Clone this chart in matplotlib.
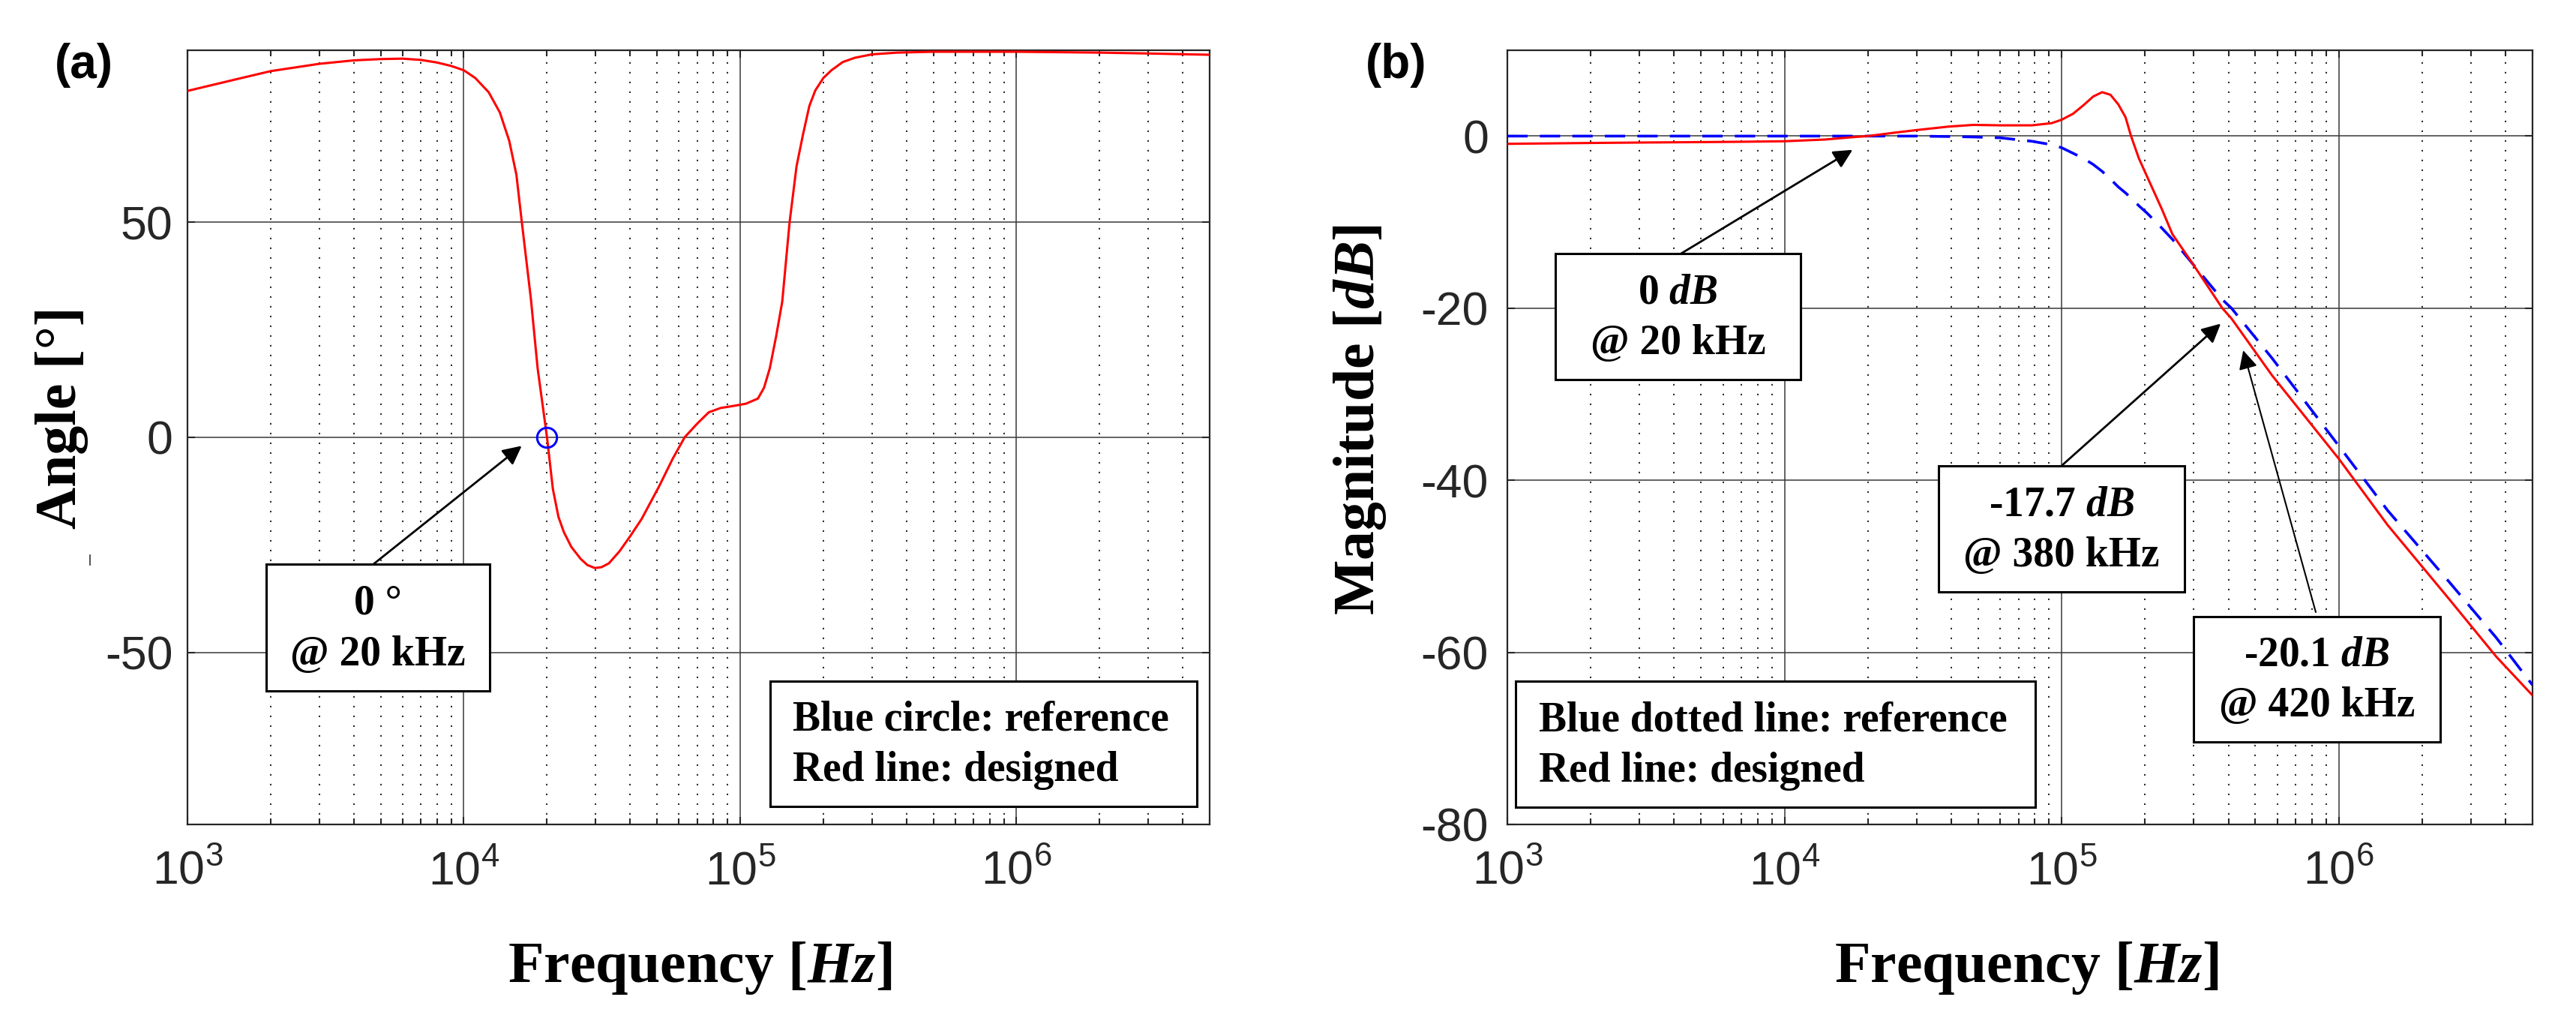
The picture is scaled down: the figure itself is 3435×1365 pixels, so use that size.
import matplotlib
matplotlib.use("Agg")
import matplotlib.pyplot as plt
from matplotlib.patches import Rectangle
from matplotlib.lines import Line2D

# ---------------- data ----------------
# (a) phase of designed response
phase_freq = [1e3, 1.5e3, 2e3, 3e3, 4e3, 5e3, 6e3, 7e3, 8e3, 9e3, 1e4, 1.1e4, 1.23e4,
              1.35e4, 1.46e4, 1.55e4, 1.62e4, 1.75e4, 1.85e4, 2e4, 2.1e4, 2.2e4,
              2.3e4, 2.45e4, 2.65e4, 2.8e4, 2.98e4, 3.15e4, 3.35e4, 3.66e4, 4.0e4,
              4.4e4, 5.1e4, 5.7e4, 6.3e4,
              7.0e4, 7.7e4, 8.5e4, 9.5e4, 1.05e5, 1.16e5, 1.22e5, 1.28e5, 1.35e5,
              1.42e5, 1.51e5, 1.6e5, 1.69e5, 1.78e5, 1.87e5, 2.0e5, 2.14e5, 2.35e5,
              2.6e5, 3.0e5, 3.7e5, 5e5, 1e6, 2e6, 3e6, 5e6]
phase_deg = [80.5, 83.2, 85.1, 86.8, 87.6, 87.9, 88.0, 87.7, 87.1, 86.3, 85.3, 83.5, 80.2,
             75.5, 68.9, 61.0, 50.2, 32.0, 16.0, 0.0, -12.0, -18.5,
             -22.0, -25.5, -28.3, -29.7, -30.4, -30.2, -29.3, -26.5, -23.0,
             -19.0, -11.3, -5.0, 0.0,
             3.2, 5.8, 6.8, 7.3, 7.8, 9.0, 11.5, 16.0, 23.5,
             31.5, 50.0, 63.0, 70.5, 77.0, 80.6, 83.5, 85.3, 87.2,
             88.2, 89.0, 89.4, 89.6, 89.6, 89.4, 89.2, 88.9]
ref_point_freq = [2e4]
ref_point_deg = [0.0]

# (b) magnitude
mag_freq = [1e3, 2e3, 3e3, 5e3, 7e3, 1e4, 1.4e4, 1.8e4, 2e4, 2.5e4, 3e4, 3.9e4, 4.8e4,
            6e4, 7.8e4, 9.2e4, 1e5, 1.1e5, 1.2e5, 1.3e5, 1.4e5, 1.5e5, 1.6e5, 1.7e5,
            1.78e5, 1.9e5, 2.04e5, 2.3e5, 2.51e5, 2.98e5, 3.8e5, 4.1e5, 5.74e5, 1e6,
            1.5e6, 2.5e6, 3.7e6, 5e6]
mag_designed = [-0.9, -0.8, -0.75, -0.7, -0.66, -0.6, -0.4, -0.1, 0.0, 0.4, 0.7, 1.1, 1.3,
                1.25, 1.25, 1.5, 1.9, 2.6, 3.6, 4.6, 5.1, 4.8, 3.7, 2.2,
                0.0, -2.6, -4.8, -8.5, -11.4, -14.9, -20.0, -21.2, -27.8, -37.5,
                -45.2, -53.8, -60.5, -65.0]
mag_reference = [0.0, 0.0, 0.0, 0.0, 0.0, 0.0, 0.0, 0.0, 0.0, 0.0, 0.0, -0.05, -0.1,
                 -0.2, -0.6, -1.0, -1.35, -2.0, -2.6, -3.3, -4.1, -5.0, -5.9, -6.6,
                 -7.2, -8.1, -9.0, -10.7, -12.0, -14.9, -19.0, -20.0, -25.8, -36.0,
                 -43.5, -51.8, -58.3, -63.8]

xticks = [1e3, 1e4, 1e5, 1e6]
xtick_labels = [r'$\mathregular{10^{3}}$', r'$\mathregular{10^{4}}$',
                r'$\mathregular{10^{5}}$', r'$\mathregular{10^{6}}$']
minor_xticks = [m * d for d in (1e3, 1e4, 1e5, 1e6) for m in range(2, 10) if m * d <= 5e6]
yticks_a = [-50, 0, 50]
yticks_b = [-80, -60, -40, -20, 0]

# ---------------- style ----------------
plt.rcParams['font.family'] = ['Liberation Sans', 'DejaVu Sans']
plt.rcParams['mathtext.fontset'] = 'custom'
plt.rcParams['mathtext.bfit'] = 'Liberation Serif:italic:bold'
SERIF = ['Liberation Serif', 'DejaVu Serif']
TICKC = '#262626'

W, H = 3435, 1365
fig = plt.figure(figsize=(W / 100, H / 100), dpi=100)


def fx(x):
    return x / W


def fy(y):
    return 1 - y / H


axA = fig.add_axes([fx(250), fy(1099), (1613 - 250) / W, (1099 - 66.7) / H])
axB = fig.add_axes([fx(2010), fy(1099), (3377 - 2010) / W, (1099 - 66.7) / H])

for ax in (axA, axB):
    ax.set_xscale('log')
    ax.set_xlim(1e3, 5e6)
    ax.set_xticks(xticks)
    ax.set_xticklabels(xtick_labels)
    ax.set_xticks(minor_xticks, minor=True)
    ax.set_xticklabels([], minor=True)
    ax.tick_params(which='both', direction='in', top=True, right=True,
                   colors=TICKC, labelcolor=TICKC, width=1.5)
    ax.tick_params(which='major', length=7, labelsize=45)
    ax.tick_params(which='minor', length=5.5)
    ax.tick_params(axis='x', which='major', pad=24)
    ax.grid(True, which='major', axis='both', color='0.22', lw=1.1, ls='-')
    ax.grid(True, which='minor', axis='x', color='0.1', lw=1.3, ls=(0, (1.2, 6)))
    for s in ax.spines.values():
        s.set_linewidth(1.6)
        s.set_color(TICKC)

# ---------------- (a) ----------------
axA.set_ylim(-90, 90)
axA.set_yticks(yticks_a)
axA.set_yticklabels([str(v) for v in yticks_a])
axA.tick_params(axis='y', which='major', pad=14)
axA.plot(phase_freq, phase_deg, color='red', lw=2.2, zorder=3)
axA.plot(ref_point_freq, ref_point_deg, 'o', mfc='none', mec='blue', ms=19, mew=2.2, zorder=4)

# ---------------- (b) ----------------
axB.set_ylim(-80, 10)
axB.set_yticks(yticks_b)
axB.set_yticklabels([str(v) for v in yticks_b])
axB.tick_params(axis='y', which='major', pad=18)
axB.plot(mag_freq, mag_reference, color='blue', lw=2.6, dashes=(7.5, 4.5), zorder=3)
axB.plot(mag_freq, mag_designed, color='red', lw=2.2, zorder=4)

# ---------------- labels ----------------
fig.text(fx(83), fy(557), 'Angle [°]', rotation=90, ha='center', va='center',
         family=SERIF, weight='bold', size=56)
fig.text(fx(1813), fy(559), r'Magnitude [$\mathbfit{dB}$]', rotation=90, ha='center',
         va='center', family=SERIF, weight='bold', size=56)
fig.text(fx(933), fy(1291), r'Frequency [$\mathbfit{Hz}$]', ha='center', va='center',
         family=SERIF, weight='bold', size=56)
fig.text(fx(2702), fy(1291), r'Frequency [$\mathbfit{Hz}$]', ha='center', va='center',
         family=SERIF, weight='bold', size=56)
fig.text(fx(112), fy(87), '(a)', ha='center', va='center', weight='bold', size=46)
fig.text(fx(1862), fy(87), '(b)', ha='center', va='center', weight='bold', size=46)

# stray tick mark left of (a)
fig.add_artist(Line2D([fx(120), fx(120)], [fy(740), fy(753)], color='0.2', lw=1.2))


# ---------------- annotation boxes ----------------
def box(x0, y0, x1, y1, lines, centered=True, tx=None):
    fig.add_artist(Rectangle((fx(x0), fy(y1)), (x1 - x0) / W, (y1 - y0) / H,
                             transform=fig.transFigure, facecolor='white',
                             edgecolor='black', lw=2.2, zorder=5))
    h = y1 - y0
    for i, t in enumerate(lines):
        yc = y0 + h * (0.31 if i == 0 else 0.715)
        if centered:
            fig.text(fx((x0 + x1) / 2), fy(yc), t, ha='center', va='center',
                     family=SERIF, weight='bold', size=40, zorder=6)
        else:
            fig.text(fx(tx), fy(yc), t, ha='left', va='center',
                     family=SERIF, weight='bold', size=40, zorder=6)


def arrow(ax, tip, tail, lw=2.0):
    ax.annotate('', xy=tip, xycoords='data', xytext=(fx(tail[0]), fy(tail[1])),
                textcoords='figure fraction', annotation_clip=False,
                arrowprops=dict(arrowstyle='-|>', color='black', lw=lw,
                                mutation_scale=38, shrinkA=0, shrinkB=0))


arrow(axA, (1.62e4, -2.0), (498, 752))
box(355, 752, 653, 921, ['0 °', '@ 20 kHz'])
box(1027, 908, 1596, 1075, ['Blue circle: reference', 'Red line: designed'],
    centered=False, tx=1057)

arrow(axB, (1.76e4, -1.6), (2240, 339))
arrow(axB, (3.75e5, -21.8), (2750, 620))
arrow(axB, (4.52e5, -24.9), (3088, 816), lw=1.5)
box(2074, 338, 2401, 506, [r'0 $\mathbfit{dB}$', '@ 20 kHz'])
box(2585, 621, 2913, 789, [r'-17.7 $\mathbfit{dB}$', '@ 380 kHz'])
box(2925, 822, 3254, 989, [r'-20.1 $\mathbfit{dB}$', '@ 420 kHz'])
box(2021, 908, 2714, 1076, ['Blue dotted line: reference', 'Red line: designed'],
    centered=False, tx=2052)

fig.savefig('out.png', dpi=100, facecolor='white')
